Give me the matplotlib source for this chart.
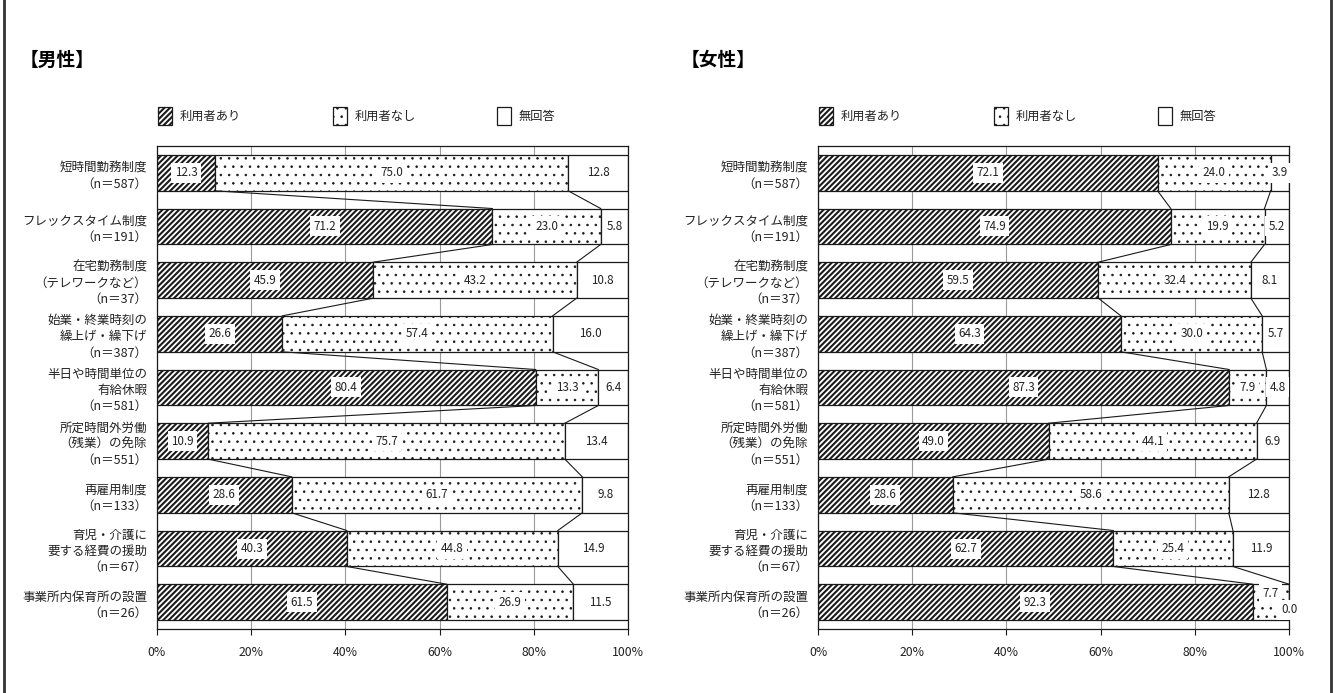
import numpy as np
import matplotlib
matplotlib.use("Agg")
import matplotlib.pyplot as plt
from matplotlib.patches import Rectangle
from matplotlib.lines import Line2D

plt.rcParams['font.family'] = ['Noto Sans CJK JP', 'DejaVu Sans']

# ---- data -------------------------------------------------------------
categories = [
    "短時間勤務制度\n（n＝587）",
    "フレックスタイム制度\n（n＝191）",
    "在宅勤務制度\n（テレワークなど）\n（n＝37）",
    "始業・終業時刻の\n繰上げ・繰下げ\n（n＝387）",
    "半日や時間単位の\n有給休暇\n（n＝581）",
    "所定時間外労働\n（残業）の免除\n（n＝551）",
    "再雇用制度\n（n＝133）",
    "育児・介護に\n要する経費の援助\n（n＝67）",
    "事業所内保育所の設置\n（n＝26）",
]

male_used = [12.3, 71.2, 45.9, 26.6, 80.4, 10.9, 28.6, 40.3, 61.5]
male_unused = [75.0, 23.0, 43.2, 57.4, 13.3, 75.7, 61.7, 44.8, 26.9]
male_noans = [12.8, 5.8, 10.8, 16.0, 6.4, 13.4, 9.8, 14.9, 11.5]

female_used = [72.1, 74.9, 59.5, 64.3, 87.3, 49.0, 28.6, 62.7, 92.3]
female_unused = [24.0, 19.9, 32.4, 30.0, 7.9, 44.1, 58.6, 25.4, 7.7]
female_noans = [3.9, 5.2, 8.1, 5.7, 4.8, 6.9, 12.8, 11.9, 0.0]

series_names = ["利用者あり", "利用者なし", "無回答"]
panel_titles = ["【男性】", "【女性】"]
xtick_values = [0, 20, 40, 60, 80, 100]
xtick_labels = ["0%", "20%", "40%", "60%", "80%", "100%"]

# ---- styling ------------------------------------------------------------
W, H = 1335, 693
HATCHES = ["//////", "..", ""]
HATCH_LW = [1.5, 0.6, 0.0]
EDGE = "#1a1a1a"
TEXT = "#222222"


def fx(px):
    return px / W


def fy(py):
    return 1 - py / H


def style_hatch(artist, lw):
    if hasattr(artist, "set_hatch_linewidth"):
        artist.set_hatch_linewidth(lw)


def draw_panel(ax, used, unused, noans):
    n = len(categories)
    y = np.arange(n)
    h = 0.67
    used = np.asarray(used)
    unused = np.asarray(unused)
    noans = np.asarray(noans)
    lefts = [np.zeros(n), used, used + unused]
    values = [used, unused, noans]

    ax.set_xlim(0, 100)
    ax.set_ylim(n - 0.5, -0.5)
    ax.set_axisbelow(True)
    ax.xaxis.grid(True, color="#9a9a9a", lw=0.8)

    for k in range(3):
        bars = ax.barh(y, values[k], left=lefts[k], height=h, color="white",
                       edgecolor=EDGE, lw=0.9, hatch=HATCHES[k], zorder=2)
        for b in bars:
            style_hatch(b, HATCH_LW[k])

    # connector lines between series boundaries of adjacent bars
    b1 = used
    b2 = used + unused
    for i in range(n - 1):
        for b in (b1, b2):
            ax.plot([b[i], b[i + 1]], [i + h / 2, i + 1 - h / 2],
                    color=EDGE, lw=0.8, zorder=3)

    # value labels
    for i in range(n):
        offsets = [0.0, 0.0, 0.0]
        if noans[i] == 0:
            offsets[1] = -0.17
            offsets[2] = 0.14
        for k in range(3):
            cx = lefts[k][i] + values[k][i] / 2
            ax.text(cx, i + offsets[k], f"{values[k][i]:.1f}",
                    ha="center", va="center", fontsize=8.4, color=TEXT,
                    zorder=5,
                    bbox=dict(boxstyle="square,pad=0.3", fc="white",
                              ec="none"))

    ax.set_yticks(y)
    ax.set_yticklabels(categories, fontsize=9, color=TEXT,
                       linespacing=1.3, ha="right")
    ax.tick_params(axis="y", length=0, pad=7)
    ax.set_xticks(xtick_values)
    ax.set_xticklabels(xtick_labels, fontsize=8.8, color=TEXT)
    ax.tick_params(axis="x", direction="out", length=4, width=0.8,
                   color=EDGE, pad=8)
    for sp in ax.spines.values():
        sp.set_color(EDGE)
        sp.set_linewidth(0.9)


fig = plt.figure(figsize=(W / 100, H / 100), dpi=100)

panels = [
    (157, male_used, male_unused, male_noans),
    (818, female_used, female_unused, female_noans),
]
top_px, bottom_px = 146, 629
ax_w = 471

for (left_px, u, un, na), title, title_x in zip(panels, panel_titles, (20, 681)):
    ax = fig.add_axes([fx(left_px), fy(bottom_px), fx(ax_w),
                       (bottom_px - top_px) / H])
    draw_panel(ax, u, un, na)

    fig.text(fx(title_x), fy(60), title, fontsize=13.5, fontweight="bold",
             ha="left", va="center")

    # legend row
    key_x = [left_px + 1, left_px + 176, left_px + 340]
    for k in range(3):
        rect = Rectangle((fx(key_x[k]), fy(125)), fx(14), 18 / H,
                         transform=fig.transFigure, facecolor="white",
                         edgecolor=EDGE, lw=0.9, hatch=HATCHES[k])
        style_hatch(rect, HATCH_LW[k])
        fig.add_artist(rect)
        fig.text(fx(key_x[k] + 22), fy(116), series_names[k], fontsize=8.8,
                 ha="left", va="center", color=TEXT)

# page frame on the left and right edges
for xp in (4, 1331):
    fig.add_artist(Line2D([fx(xp), fx(xp)], [0, 1], transform=fig.transFigure,
                          color="#333333", lw=2.0))

fig.savefig("out.png", dpi=100)
